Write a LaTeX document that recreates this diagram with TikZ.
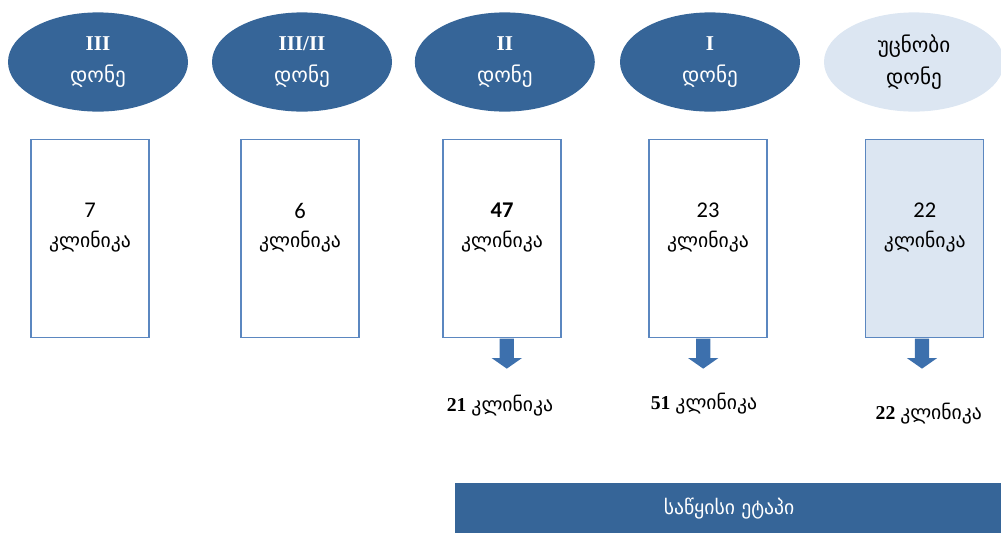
\documentclass[tikz,border=0pt]{standalone}
\usepackage{fontspec}
\setmainfont{Liberation Serif}
\newfontfamily\geofont{DejaVu Sans}
\newfontfamily\numfont{Carlito}
\usepackage{tikz}
\usetikzlibrary{positioning,shapes.geometric,shapes.arrows}
\definecolor{lvlblue}{HTML}{366598}
\definecolor{lvllight}{HTML}{DCE6F2}
\definecolor{boxline}{HTML}{5B87C0}
\definecolor{arrblue}{HTML}{3D70AD}
\tikzset{
  level/.style={
    ellipse,
    fill=lvlblue,
    text=white,
    minimum width=4.5cm,
    minimum height=2.48cm,
    align=center,
    font=\fontsize{15}{23}\selectfont},
  unklevel/.style={level, fill=lvllight, text=black},
  clinbox/.style={
    rectangle,
    draw=boxline, thick,
    minimum width=2.95cm,
    minimum height=4.95cm},
  clintext/.style={
    align=center,
    font=\fontsize{14}{21}\selectfont},
  downarr/.style={
    single arrow,
    fill=arrblue,
    shape border rotate=270,
    minimum height=0.75cm,
    minimum width=0.76cm,
    single arrow head extend=0.2cm,
    single arrow tip angle=110,
    inner sep=0.17cm},
  countlbl/.style={font=\fontsize{14}{17}\selectfont}
}
\begin{document}
\begin{tikzpicture}
    \useasboundingbox (0,0) rectangle (25.025,-13.325);

    % levels
    \node[level] (L1) at (2.45,-1.55) {\textbf{III}\\\geofont დონე};
    \node[level] (L2) at (7.55,-1.55) {\textbf{III/II}\\\geofont დონე};
    \node[level] (L3) at (12.62,-1.55) {\textbf{II}\\\geofont დონე};
    \node[level] (L4) at (17.75,-1.55) {\textbf{I}\\\geofont დონე};
    \node[unklevel] (L5) at (22.85,-1.55) {\geofont უცნობი\\\geofont დონე};

    % clinic boxes
    \node[clinbox] (B1) at (2.25,-5.97) {};
    \node[clinbox] (B2) at (7.5,-5.97) {};
    \node[clinbox] (B3) at (12.55,-5.97) {};
    \node[clinbox] (B4) at (17.7,-5.97) {};
    \node[clinbox, fill=lvllight] (B5) at (23.12,-5.97) {};

    \node[clintext] (T1) at ([yshift=0.28cm]B1.center) {\fontsize{16}{21}\numfont 7\\\geofont კლინიკა};
    \node[clintext] (T2) at ([yshift=0.28cm]B2.center) {\fontsize{16}{21}\numfont 6\\\geofont კლინიკა};
    \node[clintext] (T3) at ([yshift=0.28cm]B3.center) {\fontsize{16}{21}\numfont\bfseries 47\\\geofont კლინიკა};
    \node[clintext] (T4) at ([yshift=0.28cm]B4.center) {\fontsize{16}{21}\numfont 23\\\geofont კლინიკა};
    \node[clintext] (T5) at ([yshift=0.28cm]B5.center) {\fontsize{16}{21}\numfont 22\\\geofont კლინიკა};

    % arrows
    \node[downarr, below=0pt of B3.south, xshift=0.12cm] (A3) {};
    \node[downarr, below=0pt of B4.south, xshift=-0.12cm] (A4) {};
    \node[downarr, below=0pt of B5.south, xshift=-0.07cm] (A5) {};

    \node[countlbl] (C3) at (12.5,-10.15) {\textbf{21} \geofont კლინიკა};
    \node[countlbl] (C4) at (17.6,-10.1) {\textbf{51} \geofont კლინიკა};
    \node[countlbl] (C5) at (23.22,-10.35) {\textbf{22} \geofont კლინიკა};

    % initial stage
    \node[fill=lvlblue, text=white, minimum width=13.7cm, minimum height=1.25cm,
          anchor=north west, inner sep=0pt, font=\fontsize{14}{17}\selectfont]
          (S) at (11.37,-12.08) {\geofont საწყისი ეტაპი};
\end{tikzpicture}
\end{document}
